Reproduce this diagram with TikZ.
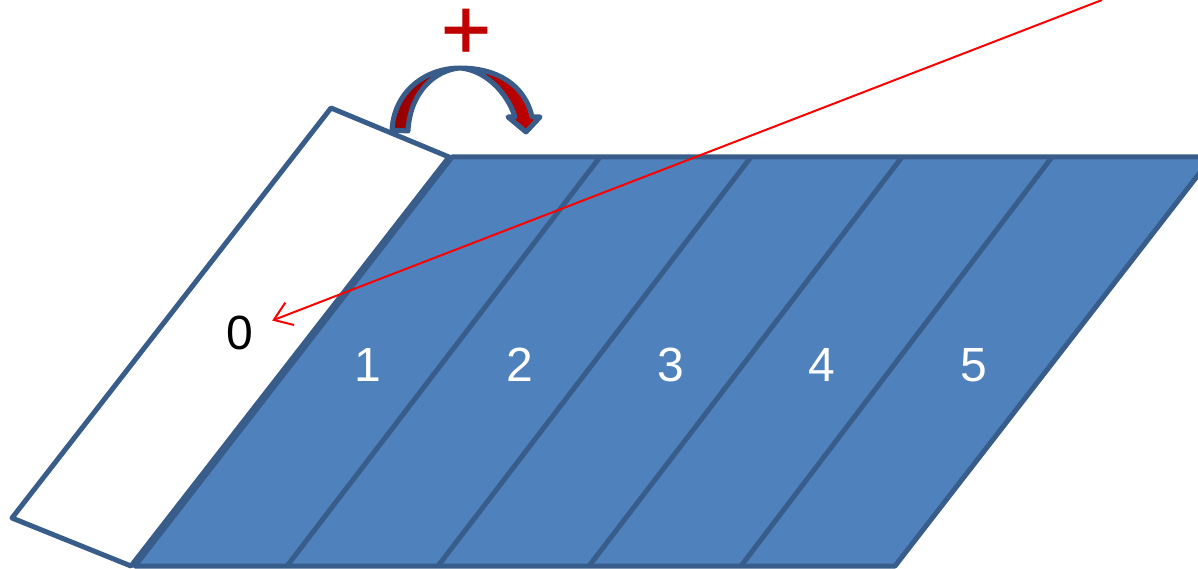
\documentclass[tikz,border=0pt]{standalone}
\usepackage{fontspec}
\setmainfont{Liberation Sans}
\newfontfamily\plusfont[FakeBold=1]{Liberation Sans}
\usepackage{xcolor}
\usepackage{tikz}
\usetikzlibrary{arrows.meta}

\definecolor{panelfill}{HTML}{4F81BD}
\definecolor{panelline}{HTML}{385D8A}
\definecolor{turnred}{HTML}{C00000}
\definecolor{turndark}{HTML}{960000}

\tikzset{
    panel/.style={draw=panelline, line width=5pt, line join=round},
    digit/.style={inner sep=0pt, font=\fontsize{48}{48}\selectfont},
    ray/.style={draw=red, line width=2pt, -{Straight Barb[length=17pt, width=24pt]}}
}

\begin{document}
\begin{tikzpicture}[x=1pt, y=-1pt]
    \useasboundingbox (0,0) rectangle (1198,569);

    % Tấm nền
    \fill[panelfill] (452,157) -- (1212,157) -- (895,566) -- (135,566) -- cycle;
    \foreach \xa/\xb in {600/287, 751/438, 902/589, 1052/741} {
        \draw[panel] (\xa,157) -- (\xb,566);
    }
    \draw[panel] (452,157) -- (1212,157) -- (895,566) -- (135,566) -- cycle;

    % Tấm mở
    \draw[panel, fill=white] (331,108) -- (449,157) -- (131,566) -- (12,518) -- cycle;

    % Số thứ tự
    \node[digit] (zero) at (240,333) {0};
    \foreach \x/\n in {368/1, 520/2, 671/3, 822/4, 974/5} {
        \node[digit, text=white] (num\n) at (\x,365) {\n};
    }

    % Mũi tên quay
    \draw[panel, left color=turndark, right color=turnred]
        (392,130) .. controls (394,92) and (425,68) .. (460,68)
        .. controls (497,68) and (525,85) .. (532,117)
        -- (540,117) -- (526,132) -- (508,117) -- (515,117)
        .. controls (507,92) and (485,70) .. (460,68)
        .. controls (435,70) and (410,92) .. (408,131) -- cycle;
    \node[inner sep=0pt, text=turnred, font=\plusfont\fontsize{86}{86}\selectfont] (plus) at (466,34) {+};

    % Tia đỏ
    \coordinate (source) at (1102,0);
    \draw[ray, shorten >=20pt] (source) -- (zero);
\end{tikzpicture}
\end{document}
